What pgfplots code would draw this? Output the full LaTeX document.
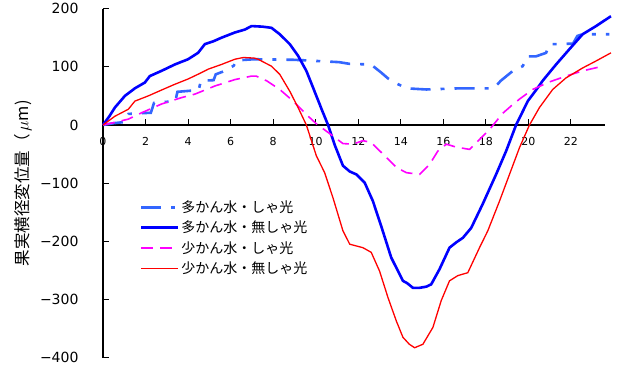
\documentclass[border=0pt]{standalone}
\usepackage{fontspec}
\setmainfont{DejaVu Sans}
\newfontfamily\jp{Noto Sans CJK JP}
\usepackage{pgfplots}
\pgfplotsset{compat=1.18}

\definecolor{colLBlue}{RGB}{51,102,255}
\definecolor{colBlue}{RGB}{0,0,255}
\definecolor{colMag}{RGB}{255,0,255}
\definecolor{colRed}{RGB}{255,0,0}

\begin{document}
\begin{tikzpicture}
\begin{axis}[
    scale only axis,
    width  = 502pt,
    height = 349pt,
    xmin = 0, xmax = 23.6,
    ymin = -400, ymax = 200,
    clip = false,
    axis x line* = middle,
    axis y line* = left,
    axis line style = {black, line width=1.2pt},
    tick style = {black, line width=1pt},
    major tick length = 6pt,
    tick align = inside,
    hide obscured x ticks = false,
    /pgf/number format/assume math mode = true,
    xtick = {0,2,...,22},
    ytick = {-400,-300,...,200},
    yticklabels = {−400,−300,−200,−100,0,100,200},
    xticklabel style = {font=\fontsize{11}{13}\selectfont, yshift=-9pt},
    yticklabel style = {font=\fontsize{14}{16}\selectfont, xshift=-21pt},
    ylabel = {\jp 果実横径変位量（\,$\mu$m)},
    ylabel style = {at={(rel axis cs:0,0.5)}, rotate=0, anchor=center,
        font=\fontsize{16.5}{18}\selectfont},
    every axis y label/.append style = {yshift=80pt},
    legend image code/.code = {\draw[#1] (0pt,0pt) -- (37pt,0pt);},
    legend style = {
        at={(rel axis cs:0.073,0.456)},
        anchor=north west,
        draw=none, fill=none,
        inner sep=0pt,
        row sep=3pt,
        text=black,
        font=\jp\fontsize{14}{16}\selectfont,
        cells={anchor=west},
    },
]

% 多かん水・しゃ光
\addplot[draw=colLBlue, line width=2.6pt, dash pattern=on 20pt off 10pt on 4pt off 10pt]
coordinates {
    (0,0) (0.5,3) (1.0,5) (1.2,19) (2.25,21) (2.4,38) (3.4,41) (3.5,57)
    (4.5,60) (4.6,76) (5.2,77) (5.3,87) (5.8,94) (6.15,102) (6.28,111)
    (7.1,113) (9,112) (11.1,108) (11.6,105) (12.6,104) (13.08,90) (13.4,80)
    (13.71,73) (14.26,63) (15.2,61) (16.8,63) (18.3,63) (18.5,68) (18.7,76)
    (19.27,93) (19.5,97) (19.73,101) (19.97,118) (20.36,118) (20.83,124)
    (21.0,139) (21.53,139) (22.1,140) (22.3,153) (22.55,156) (23.8,156)};
\addlegendentry{多かん水・しゃ光}

% 多かん水・無しゃ光
\addplot[draw=colBlue, line width=2.6pt] coordinates {
    (0,0) (0.3,15) (0.56,30) (1.03,50) (1.5,63) (1.97,73) (2.2,84) (2.75,93)
    (3.38,104) (4.0,113) (4.47,124) (4.79,139) (5.2,144) (5.57,150) (6.2,159)
    (6.67,164) (6.98,170) (7.5,169) (7.92,167) (8.31,156) (8.78,139)
    (9.17,119) (9.56,93) (10.03,50) (10.3,25) (10.58,0) (10.9,-35)
    (11.28,-70) (11.6,-80) (11.91,-85) (12.3,-99) (12.69,-131) (13.08,-174)
    (13.55,-228) (14.1,-268) (14.3,-272) (14.57,-280) (14.88,-280)
    (15.2,-278) (15.43,-274) (15.82,-248) (16.29,-211) (16.6,-202)
    (16.92,-194) (17.31,-177) (17.85,-136) (18.48,-85) (18.95,-45)
    (19.42,0) (19.97,41) (20.4,62) (20.67,76) (21.3,104) (21.92,130)
    (22.55,156) (23.18,170) (23.88,187)};
\addlegendentry{多かん水・無しゃ光}

% 少かん水・しゃ光
\addplot[draw=colMag, line width=1.6pt, dash pattern=on 12pt off 7pt] coordinates {
    (0,0) (0.5,4) (1.19,10) (1.82,21) (2.75,36) (3.69,47) (4.32,53)
    (5.26,67) (6.2,78) (6.98,84) (7.2,84) (7.69,76) (8.31,61) (8.94,41)
    (9.56,18) (10.03,2) (10.81,-19) (11.28,-32) (11.75,-33) (12.22,-27)
    (12.61,-30) (13.16,-50) (13.79,-73) (14.26,-82) (14.88,-85) (15.35,-68)
    (15.74,-45) (16.14,-33) (16.6,-38) (17.23,-42) (17.7,-25) (18.17,-8)
    (18.79,20) (19.26,35) (19.6,45) (20.2,61) (20.99,74) (21.77,84)
    (22.55,93) (23.49,101)};
\addlegendentry{少かん水・しゃ光}

% 少かん水・無しゃ光
\addplot[draw=colRed, line width=1.3pt] coordinates {
    (0,0) (0.56,15) (1.19,27) (1.5,41) (2.13,50) (2.75,60) (3.38,70)
    (4.0,79) (4.63,90) (4.95,96) (5.57,104) (6.2,113) (6.6,116) (7.1,115)
    (7.29,113) (7.92,101) (8.31,87) (8.78,58) (9.17,30) (9.56,0)
    (10.03,-53) (10.42,-82) (10.81,-125) (11.28,-182) (11.6,-205)
    (12.22,-211) (12.61,-219) (13.0,-251) (13.4,-297) (13.79,-337)
    (14.1,-365) (14.4,-377) (14.65,-383) (15.04,-377) (15.51,-348)
    (15.9,-302) (16.29,-268) (16.68,-259) (17.15,-254) (17.7,-211)
    (18.09,-182) (18.64,-131) (19.11,-85) (19.58,-39) (20.05,0)
    (20.52,30) (21.14,61) (21.77,81) (22.55,98) (23.18,110) (23.88,124)};
\addlegendentry{少かん水・無しゃ光}

\path (rel axis cs:0,0) ++(-103pt,-25pt) rectangle ++(619pt,382pt);
\end{axis}
\end{tikzpicture}
\end{document}
